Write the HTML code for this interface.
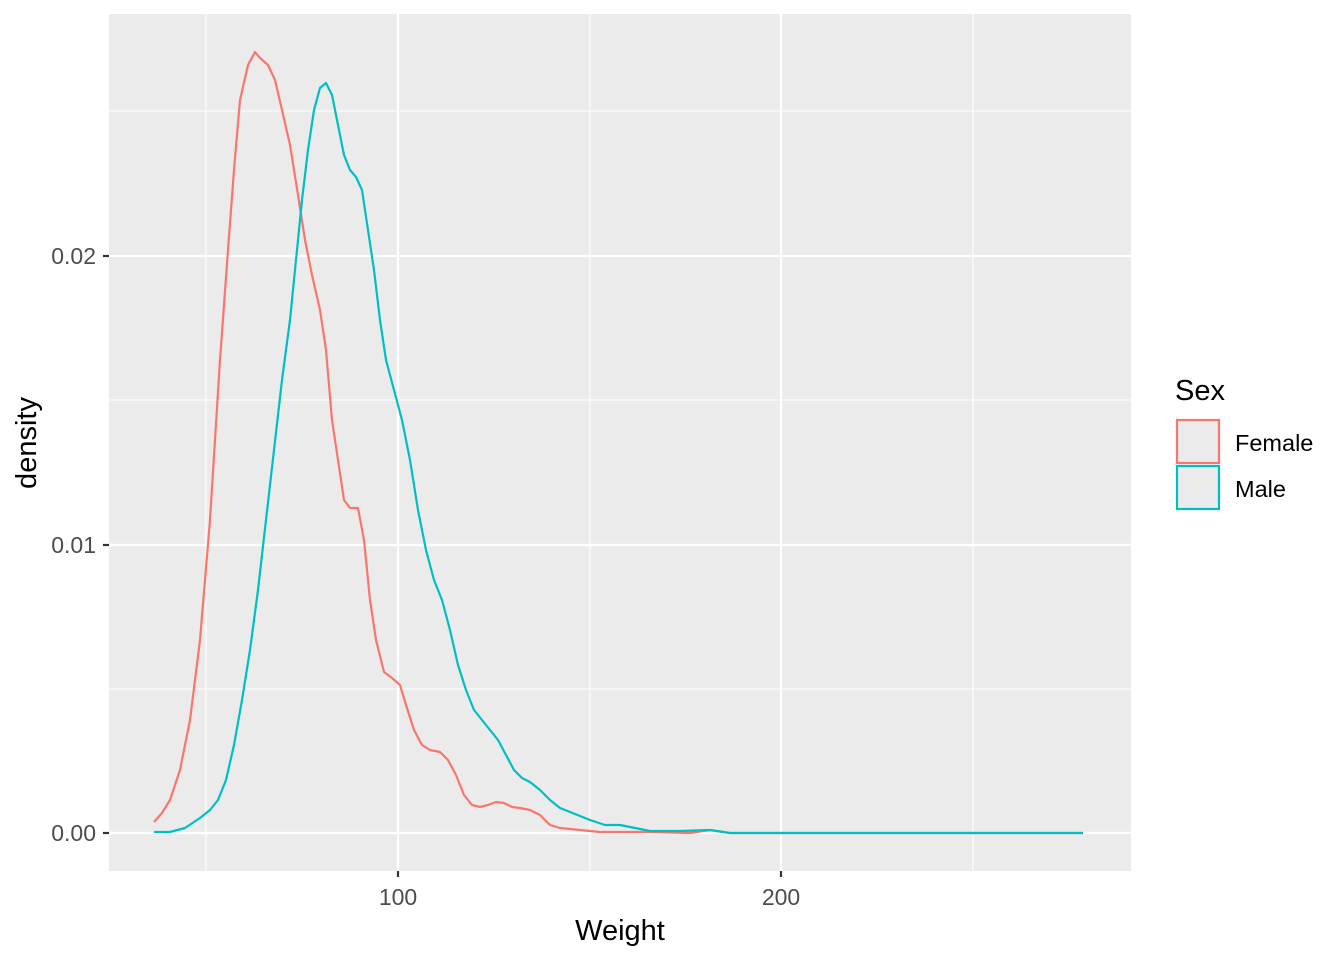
<!DOCTYPE html>
<html><head><meta charset="utf-8"><style>html,body{margin:0;padding:0;background:#fff}</style></head>
<body>
<svg width="1344" height="960" xmlns="http://www.w3.org/2000/svg" font-family="Liberation Sans, sans-serif">
<rect width="1344" height="960" fill="#fff"/>
<rect x="109" y="14" width="1022" height="857" fill="#ebebeb"/>
<g stroke="#fff" stroke-width="1.1">
<line x1="206" y1="14" x2="206" y2="871"/><line x1="590" y1="14" x2="590" y2="871"/><line x1="973" y1="14" x2="973" y2="871"/>
<line x1="109" y1="689" x2="1131" y2="689"/><line x1="109" y1="400" x2="1131" y2="400"/><line x1="109" y1="111" x2="1131" y2="111"/>
</g>
<g stroke="#fff" stroke-width="2.2">
<line x1="398" y1="14" x2="398" y2="871"/><line x1="781" y1="14" x2="781" y2="871"/>
<line x1="109" y1="833" x2="1131" y2="833"/><line x1="109" y1="545" x2="1131" y2="545"/><line x1="109" y1="256" x2="1131" y2="256"/>
</g>
<polyline fill="none" stroke="#F8766D" stroke-width="2.2" stroke-linejoin="round" points="154,822 162,813 170,800 180,770 190,720 200,640 210,520 220,360 228,250 234,170 240,100 248,65 255,52 260,58 268,65 275,80 282,110 290,145 298,195 305,240 312,275 320,310 326,350 332,420 338,460 344,500 350,508 358,508 364,540 370,600 376,640 384,672 392,678 400,685 406,705 414,730 422,745 430,750 440,752 448,760 456,775 464,795 472,805 480,807 488,805 496,802 504,803 512,807 520,808 530,810 540,815 550,825 560,828 580,830 600,832 650,832 690,833 710,830 730,833 1083,833"/>
<polyline fill="none" stroke="#00BFC4" stroke-width="2.2" stroke-linejoin="round" points="154,832 170,832 185,828 200,818 210,810 218,800 226,780 234,745 242,700 250,650 258,590 266,520 274,450 282,380 290,320 296,260 302,200 308,150 314,110 320,88 326,83 332,95 338,125 344,155 350,170 356,177 362,190 368,230 374,270 380,320 386,360 394,390 402,420 410,460 418,510 426,550 434,580 442,600 450,630 458,665 466,690 474,710 482,720 490,730 498,740 506,755 514,770 522,778 530,782 540,790 550,800 560,808 575,814 590,820 605,825 620,825 635,828 650,831 680,831 710,830 730,833 1083,833"/>
<g stroke="#333" stroke-width="2.2">
<line x1="103" y1="833" x2="109" y2="833"/><line x1="103" y1="545" x2="109" y2="545"/><line x1="103" y1="256" x2="109" y2="256"/>
<line x1="398" y1="871" x2="398" y2="877"/><line x1="781" y1="871" x2="781" y2="877"/>
</g>
<g fill="#4d4d4d" font-size="23" text-anchor="end">
<text x="96" y="841">0.00</text><text x="96" y="553">0.01</text><text x="96" y="264">0.02</text>
</g>
<g fill="#4d4d4d" font-size="23" text-anchor="middle">
<text x="398" y="905">100</text><text x="781" y="905">200</text>
</g>
<text x="620" y="940" font-size="29" text-anchor="middle" fill="#000">Weight</text>
<text transform="translate(36,443) rotate(-90)" font-size="29" text-anchor="middle" fill="#000">density</text>
<text x="1175" y="400" font-size="29" fill="#000">Sex</text>
<rect x="1177" y="420" width="42" height="43" fill="#ebebeb" stroke="#F8766D" stroke-width="2.2"/>
<rect x="1177" y="466" width="42" height="43" fill="#ebebeb" stroke="#00BFC4" stroke-width="2.2"/>
<text x="1235" y="451" font-size="23.5" fill="#000">Female</text>
<text x="1235" y="497" font-size="23.5" fill="#000">Male</text>
</svg>
</body></html>
